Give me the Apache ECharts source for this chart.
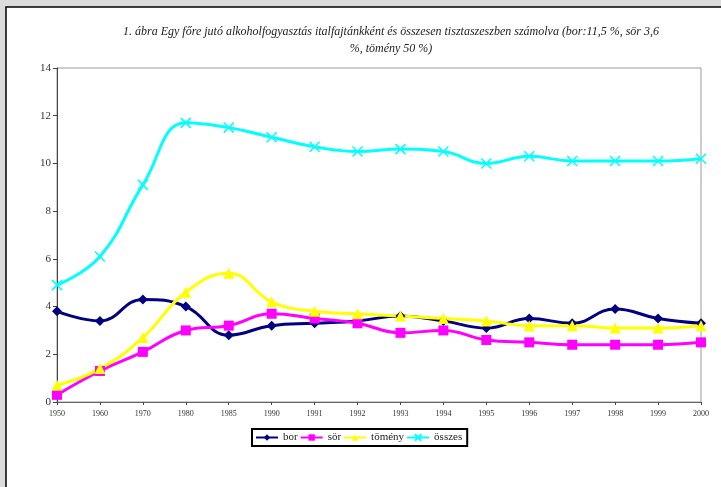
<!DOCTYPE html>
<html>
<head>
<meta charset="utf-8">
<script src="https://cdn.jsdelivr.net/npm/echarts@6/dist/echarts.min.js"></script>
<style>
  html, body { margin: 0; padding: 0; background: #dcdcdc; }
  #chart { width: 721px; height: 487px; }
</style>
</head>
<body>
<div id="chart"></div>
<script>
// évek (kategóriák)
const years = ['1950', '1960', '1970', '1980', '1985', '1990', '1991', '1992', '1993',
  '1994', '1995', '1996', '1997', '1998', '1999', '2000'];

const bor     = [3.8, 3.4, 4.3, 4.0, 2.8, 3.2, 3.3, 3.4, 3.6, 3.4, 3.1, 3.5, 3.3, 3.9, 3.5, 3.3];
const sor     = [0.3, 1.3, 2.1, 3.0, 3.2, 3.7, 3.5, 3.3, 2.9, 3.0, 2.6, 2.5, 2.4, 2.4, 2.4, 2.5];
const tomeny  = [0.7, 1.4, 2.7, 4.6, 5.4, 4.2, 3.8, 3.7, 3.6, 3.5, 3.4, 3.2, 3.2, 3.1, 3.1, 3.2];
const osszes  = [4.9, 6.1, 9.1, 11.7, 11.5, 11.1, 10.7, 10.5, 10.6, 10.5, 10.0, 10.3, 10.1, 10.1, 10.1, 10.2];

const serif = '"Liberation Serif", "DejaVu Serif", serif';

const chart = echarts.init(document.getElementById('chart'));

chart.setOption({
  backgroundColor: '#dcdcdc',
  animation: false,
  graphic: [
    {
      type: 'rect',
      z: -10,
      shape: { x: 6, y: 7, width: 730, height: 500 },
      style: { fill: '#fff', stroke: '#000', lineWidth: 1.5 }
    }
  ],
  title: {
    text: '1. ábra Egy főre jutó alkoholfogyasztás italfajtánkként és összesen tisztaszeszben számolva (bor:11,5 %, sör 3,6\n%, tömény 50 %)',
    left: 386,
    top: 18,
    textAlign: 'center',
    textStyle: {
      fontFamily: serif,
      fontStyle: 'italic',
      fontWeight: 'normal',
      fontSize: 12,
      lineHeight: 17,
      color: '#222'
    }
  },
  legend: {
    left: 252,
    top: 429,
    orient: 'horizontal',
    borderColor: '#000',
    borderWidth: 2,
    padding: [3, 5, 3, 3],
    itemWidth: 22,
    itemHeight: 8,
    itemGap: 2,
    textStyle: { fontFamily: serif, fontSize: 11, color: '#222' },
    data: ['bor', 'sör', 'tömény', 'összes']
  },
  grid: {
    left: 57,
    right: 20,
    top: 68,
    bottom: 85,
    show: true,
    borderColor: '#999',
    borderWidth: 1
  },
  xAxis: {
    type: 'category',
    data: years,
    boundaryGap: false,
    axisLine: { lineStyle: { color: '#666', width: 1 } },
    axisTick: { alignWithLabel: true, length: 3, lineStyle: { color: '#444' } },
    axisLabel: { fontFamily: serif, fontSize: 8, color: '#333', margin: 8, interval: 0 },
    splitLine: { show: false }
  },
  yAxis: {
    type: 'value',
    min: 0,
    max: 14,
    interval: 2,
    axisLine: { show: true, lineStyle: { color: '#444', width: 1 } },
    axisTick: { show: true, length: 4, lineStyle: { color: '#444' } },
    axisLabel: { fontFamily: serif, fontSize: 11, color: '#333', margin: 6 },
    splitLine: { show: false }
  },
  series: [
    {
      name: 'bor',
      type: 'line',
      data: bor,
      smooth: 0.45,
      symbol: 'diamond',
      symbolSize: 10,
      lineStyle: { color: '#000080', width: 3 },
      itemStyle: { color: '#000080' }
    },
    {
      name: 'sör',
      type: 'line',
      data: sor,
      smooth: 0.45,
      symbol: 'rect',
      symbolSize: 10,
      lineStyle: { color: '#ff00ff', width: 3 },
      itemStyle: { color: '#ff00ff' }
    },
    {
      name: 'tömény',
      type: 'line',
      data: tomeny,
      smooth: 0.45,
      symbol: 'triangle',
      symbolSize: 11,
      lineStyle: { color: '#ffff00', width: 3 },
      itemStyle: { color: '#ffff00' }
    },
    {
      name: 'összes',
      type: 'line',
      data: osszes,
      smooth: 0.45,
      symbol: 'path://M0,0L10,10M10,0L0,10',
      symbolSize: 10,
      lineStyle: { color: '#00ffff', width: 3 },
      itemStyle: { color: '#00ffff', borderColor: '#00ffff', borderWidth: 1.5 }
    }
  ]
});
</script>
</body>
</html>
